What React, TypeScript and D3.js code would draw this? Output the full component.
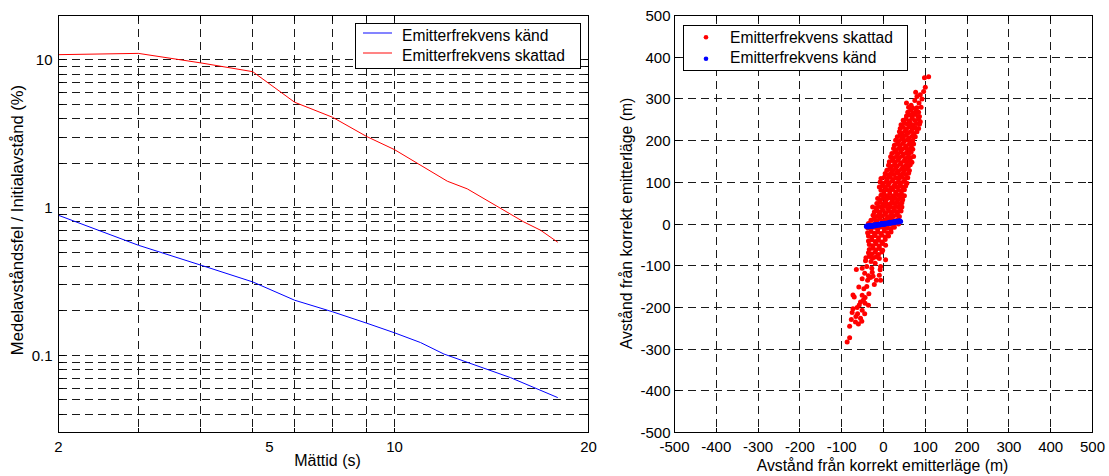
import React from 'react';
import * as d3 from 'd3';

// ---------- Left panel data ----------
const timeKnown = [2, 2.83, 3.71, 4.65, 5.58, 6.58, 7.63, 8.61, 9.64, 10.67, 14.25, 17.5];
const errKnown = [0.887, 0.556, 0.408, 0.314, 0.236, 0.197, 0.165, 0.142, 0.122, 0.102, 0.0706, 0.0517];
const timeEst = [2, 2.83, 3.71, 4.65, 5.58, 6.58, 7.63, 8.61, 10.83, 11.81, 15.1, 16.24, 17.5];
const errEst = [10.86, 11.08, 9.55, 8.33, 5.17, 4.09, 3.03, 2.47, 1.51, 1.34, 0.8, 0.703, 0.583];
const timeGrid = [2.83, 3.71, 4.65, 5.58, 6.58, 7.63, 8.61];
const timeTickValues = [2, 5, 8.61, 20];
const timeTickLabels = ['2', '5', '10', '20'];
const errTickValues = [0.1, 1, 10];
const errTickLabels = ['0.1', '1', '10'];
const leftLegend = ['Emitterfrekvens känd', 'Emitterfrekvens skattad'];

// ---------- Right panel data ----------
const posTicks = [-500, -400, -300, -200, -100, 0, 100, 200, 300, 400, 500];
const rightLegend = ['Emitterfrekvens skattad', 'Emitterfrekvens känd'];

const estPoints: [number, number][] = [
  [98, 351], [108, 353], [100, 328], [77, 316], [96, 318], [80, 306], [55, 290], [85, 290], [80, 279], [92, 300],
  [88, 310], [75, 296], [66, 285], [90, 280], [70, 278], [60, 280], [86, 258], [88, 245],
  [58, 268], [65, 273], [71, 266], [78, 271], [84, 268],
  [55, 259], [62, 262], [69, 257], [75, 263], [82, 258],
  [47, 249], [54, 252], [61, 247], [68, 253], [75, 248], [84, 251],
  [42, 238], [50, 242], [57, 239], [64, 243], [71, 237], [79, 241], [86, 239],
  [40, 229], [47, 232], [55, 228], [62, 233], [69, 227], [76, 231], [84, 229],
  [38, 221], [45, 218], [52, 223], [59, 219], [66, 222], [73, 217], [80, 221],
  [33, 209], [40, 212], [47, 208], [54, 213], [61, 207], [69, 211], [76, 209],
  [29, 201], [36, 198], [43, 203], [50, 199], [57, 202], [64, 197], [70, 201],
  [26, 189], [33, 192], [40, 188], [47, 193], [54, 187], [61, 191], [67, 189], [72, 192],
  [24, 181], [31, 178], [38, 182], [45, 179], [52, 183], [58, 177], [64, 181], [70, 179],
  [20, 169], [27, 172], [34, 168], [41, 173], [48, 167], [55, 171], [61, 169], [66, 172],
  [17, 161], [24, 158], [31, 162], [38, 159], [45, 163], [52, 157], [59, 161], [65, 159], [72, 162],
  [14, 149], [21, 152], [28, 148], [35, 153], [42, 147], [49, 151], [56, 149], [62, 152], [68, 148],
  [12, 141], [19, 138], [26, 142], [33, 139], [40, 143], [47, 137], [54, 141], [60, 139], [64, 142],
  [8, 129], [15, 132], [22, 128], [29, 133], [36, 127], [43, 131], [50, 129], [56, 132], [62, 128],
  [4, 121], [11, 118], [18, 122], [25, 119], [32, 123], [39, 117], [46, 121], [53, 119], [60, 122],
  [-6, 109], [2, 112], [9, 108], [16, 113], [23, 107], [30, 111], [37, 109], [44, 112], [51, 108], [58, 111],
  [-8, 101], [0, 98], [7, 102], [14, 99], [21, 103], [28, 97], [35, 101], [42, 99], [49, 102], [56, 98],
  [-10, 89], [-3, 92], [4, 88], [11, 93], [18, 87], [25, 91], [32, 89], [39, 92], [46, 88], [53, 91],
  [-6, 81], [1, 78], [8, 82], [15, 79], [22, 83], [29, 77], [36, 81], [43, 79], [50, 82],
  [-6, 69], [1, 72], [8, 68], [15, 73], [22, 67], [29, 71], [36, 69], [43, 72], [50, 68],
  [-14, 61], [-7, 58], [0, 62], [7, 59], [14, 63], [21, 57], [28, 61], [35, 59], [41, 62], [46, 58],
  [-16, 49], [-9, 52], [-2, 48], [5, 53], [12, 47], [19, 51], [26, 49], [33, 52], [39, 48], [44, 51],
  [-26, 41], [-18, 38], [-11, 42], [-4, 39], [3, 43], [10, 37], [17, 41], [24, 39], [31, 42], [38, 38], [44, 41],
  [-22, 29], [-15, 32], [-8, 28], [-1, 33], [6, 27], [13, 31], [20, 29], [27, 32], [34, 28], [42, 31],
  [-25, 21], [-18, 18], [-11, 22], [-4, 19], [3, 23], [10, 17], [17, 21], [24, 19], [31, 22], [38, 18],
  [-30, 9], [-23, 12], [-16, 8], [-9, 13], [-2, 7], [5, 11], [12, 9], [19, 12], [26, 8], [34, 11],
  [-36, 1], [-28, -2], [-20, 2], [-12, -1], [-4, 3], [4, -3], [12, 1], [20, -1], [28, 2], [36, 0],
  [-38, -9], [-30, -12], [-22, -8], [-14, -13], [-6, -7], [2, -11], [10, -9], [18, -12], [26, -8],
  [-38, -21], [-30, -18], [-22, -22], [-14, -19], [-6, -23], [2, -17], [10, -21], [18, -19],
  [-36, -29], [-28, -32], [-20, -28], [-12, -33], [-4, -27], [4, -31], [12, -29],
  [-36, -41], [-28, -38], [-20, -42], [-12, -39], [-4, -43], [4, -37],
  [-34, -49], [-26, -52], [-18, -48], [-10, -53], [-2, -47], [5, -51],
  [-34, -61], [-26, -58], [-18, -62], [-10, -59], [-2, -63],
  [-36, -69], [-28, -72], [-20, -68], [-12, -73], [-4, -67],
  [-42, -81], [-34, -78], [-26, -82], [-18, -79], [-10, -83],
  [-87, -283], [-81, -273], [-81, -245], [-77, -229], [-67, -235], [-55, -226], [-75, -212], [-62, -215],
  [-73, -203], [-63, -200], [-51, -207], [-36, -195], [-44, -190], [-55, -187], [-70, -175], [-73, -170],
  [-51, -171], [-44, -176], [-35, -167], [-59, -151], [-47, -155], [-40, -150], [-51, -131], [-38, -135],
  [-36, -124], [-17, -135], [-7, -135], [-10, -123], [-27, -116], [-51, -106], [-65, -109], [-40, -102],
  [-28, -106], [-8, -110], [-7, -102], [-20, -94], [-30, -90], [-43, -88], [5, -86], [-25, -125],
  [-31, -128], [-45, -118], [-22, -145], [-58, -194], [-66, -222], [-48, -182], [-45, -215], [-60, -240],
  [-52, -233],
];

const knownPoints: [number, number][] = [
  [-41, -6], [-39, -4], [-37, -7], [-35, -5], [-33, -3], [-31, -6], [-29, -4], [-27, -6], [-25, -3], [-23, -5],
  [-21, -2], [-19, -4], [-17, -1], [-15, -3], [-13, -1], [-11, -3], [-9, 0], [-7, -2], [-5, 1], [-3, -1],
  [-1, 1], [1, -1], [3, 2], [5, 0], [7, 2], [9, 1], [11, 3], [13, 1], [15, 4], [17, 2],
  [19, 4], [21, 3], [23, 5], [25, 3], [27, 6], [29, 4], [31, 6], [33, 5], [35, 7], [37, 5], [39, 8], [41, 6],
];

const FONT = "'Liberation Sans', Arial, Helvetica, sans-serif";
const RED = '#ff0000';
const BLUE = '#0000ff';
const GRID = '#1a1a1a';
const DASH = '8,5';

export default function App() {
  const L = { x0: 58.5, x1: 588.5, y0: 15.5, y1: 432.5 };
  const R = { x0: 674.5, x1: 1092.5, y0: 15.5, y1: 432.5 };

  const xL = d3.scaleLog().domain([2, 20]).range([L.x0, L.x1]);
  const yL = d3.scaleLog().domain([0.03, 20]).range([L.y1, L.y0]);
  const xR = d3.scaleLinear().domain([-500, 500]).range([R.x0, R.x1]);
  const yR = d3.scaleLinear().domain([-500, 500]).range([R.y1, R.y0]);

  const yGridL = yL.ticks().filter((v) => v > 0.0301 && v < 19.9);
  const isMajor = (v: number) => Math.abs(Math.log10(v) - Math.round(Math.log10(v))) < 1e-6;

  const lineL = d3
    .line<[number, number]>()
    .x((d) => xL(d[0]))
    .y((d) => yL(d[1]));
  const knownPath = lineL(timeKnown.map((t, i) => [t, errKnown[i]] as [number, number])) || '';
  const estPath = lineL(timeEst.map((t, i) => [t, errEst[i]] as [number, number])) || '';

  const innerTicks = posTicks.filter((v) => v > -500 && v < 500);

  return (
    <svg
      width={1109}
      height={476}
      style={{ position: 'absolute', left: 0, top: 0, background: '#fff' }}
      fontFamily={FONT}
    >
      <rect x={0} y={0} width={1109} height={476} fill="#fff" />

      {/* ===== Left panel ===== */}
      <g shapeRendering="crispEdges">
        {yGridL.map((v, i) => (
          <line key={'lh' + i} x1={L.x0} x2={L.x1} y1={yL(v)} y2={yL(v)} stroke={GRID} strokeWidth={1} strokeDasharray={DASH} />
        ))}
        {timeGrid.map((v, i) => (
          <line key={'lv' + i} x1={xL(v)} x2={xL(v)} y1={L.y0} y2={L.y1} stroke={GRID} strokeWidth={1} strokeDasharray={DASH} />
        ))}
        {yGridL.map((v, i) => {
          const len = isMajor(v) ? 6 : 4;
          return (
            <g key={'lt' + i}>
              <line x1={L.x0} x2={L.x0 + len} y1={yL(v)} y2={yL(v)} stroke="#000" />
              <line x1={L.x1} x2={L.x1 - len} y1={yL(v)} y2={yL(v)} stroke="#000" />
            </g>
          );
        })}
        {timeGrid.map((v, i) => (
          <g key={'ltx' + i}>
            <line x1={xL(v)} x2={xL(v)} y1={L.y1} y2={L.y1 - 5} stroke="#000" />
            <line x1={xL(v)} x2={xL(v)} y1={L.y0} y2={L.y0 + 5} stroke="#000" />
          </g>
        ))}
      </g>
      <path d={estPath} fill="none" stroke={RED} strokeWidth={1} />
      <path d={knownPath} fill="none" stroke={BLUE} strokeWidth={1} />
      <rect x={L.x0} y={L.y0} width={L.x1 - L.x0} height={L.y1 - L.y0} fill="none" stroke="#000" strokeWidth={1} shapeRendering="crispEdges" />

      {errTickValues.map((v, i) => (
        <text key={'yl' + i} x={L.x0 - 6} y={yL(v) + 5.5} fontSize={15} textAnchor="end" fill="#000">
          {errTickLabels[i]}
        </text>
      ))}
      {timeTickValues.map((v, i) => (
        <text key={'xl' + i} x={xL(v)} y={452} fontSize={15} textAnchor="middle" fill="#000">
          {timeTickLabels[i]}
        </text>
      ))}
      <text x={(L.x0 + L.x1) / 2 + 4} y={466} fontSize={16} textAnchor="middle" fill="#000">
        Mättid (s)
      </text>
      <text transform={`translate(23,220) rotate(-90)`} fontSize={16.6} textAnchor="middle" fill="#000">
        Medelavståndsfel / Initialavstånd (%)
      </text>

      {/* left legend */}
      <g>
        <rect x={355.5} y={23.5} width={225} height={44.5} fill="#fff" stroke="#000" strokeWidth={1} shapeRendering="crispEdges" />
        <path d="M363,33H392" stroke={BLUE} strokeWidth={1.3} strokeOpacity={0.75} fill="none" />
        <path d="M363,53H392" stroke={RED} strokeWidth={1.3} strokeOpacity={0.75} fill="none" />
        <text x={402} y={40.5} fontSize={15.6} fill="#000">{leftLegend[0]}</text>
        <text x={402} y={60.5} fontSize={15.6} fill="#000">{leftLegend[1]}</text>
      </g>

      {/* ===== Right panel ===== */}
      <g shapeRendering="crispEdges">
        {innerTicks.map((v, i) => (
          <line key={'rh' + i} x1={R.x0} x2={R.x1} y1={yR(v)} y2={yR(v)} stroke={GRID} strokeWidth={1} strokeDasharray={DASH} />
        ))}
        {innerTicks.map((v, i) => (
          <line key={'rv' + i} x1={xR(v)} x2={xR(v)} y1={R.y0} y2={R.y1} stroke={GRID} strokeWidth={1} strokeDasharray={DASH} />
        ))}
        {innerTicks.map((v, i) => (
          <g key={'rt' + i}>
            <line x1={R.x0} x2={R.x0 + 5} y1={yR(v)} y2={yR(v)} stroke="#000" />
            <line x1={R.x1} x2={R.x1 - 5} y1={yR(v)} y2={yR(v)} stroke="#000" />
            <line x1={xR(v)} x2={xR(v)} y1={R.y1} y2={R.y1 - 5} stroke="#000" />
            <line x1={xR(v)} x2={xR(v)} y1={R.y0} y2={R.y0 + 5} stroke="#000" />
          </g>
        ))}
      </g>
      <g>
        {estPoints.map((p, i) => (
          <circle key={'e' + i} cx={xR(p[0])} cy={yR(p[1])} r={2.5} fill={RED} />
        ))}
        {knownPoints.map((p, i) => (
          <circle key={'k' + i} cx={xR(p[0])} cy={yR(p[1])} r={2.5} fill={BLUE} />
        ))}
      </g>
      <rect x={R.x0} y={R.y0} width={R.x1 - R.x0} height={R.y1 - R.y0} fill="none" stroke="#000" strokeWidth={1} shapeRendering="crispEdges" />

      {posTicks.map((v, i) => (
        <text key={'ryl' + i} x={R.x0 - 4} y={yR(v) + 5.5} fontSize={15} textAnchor="end" fill="#000">
          {String(v)}
        </text>
      ))}
      {posTicks.map((v, i) => (
        <text key={'rxl' + i} x={xR(v)} y={452} fontSize={15} textAnchor="middle" fill="#000">
          {String(v)}
        </text>
      ))}
      <text x={882.5} y={470.5} fontSize={15.8} textAnchor="middle" fill="#000">
        Avstånd från korrekt emitterläge (m)
      </text>
      <text transform={`translate(631.5,223.5) rotate(-90)`} fontSize={15.8} textAnchor="middle" fill="#000">
        Avstånd från korrekt emitterläge (m)
      </text>

      {/* right legend */}
      <g>
        <rect x={683.5} y={25.5} width={224} height={45} fill="#fff" stroke="#000" strokeWidth={1} shapeRendering="crispEdges" />
        <circle cx={706} cy={37.3} r={2.3} fill={RED} />
        <circle cx={706} cy={58.7} r={2.3} fill={BLUE} />
        <text x={730} y={43} fontSize={15.6} fill="#000">{rightLegend[0]}</text>
        <text x={730} y={63} fontSize={15.6} fill="#000">{rightLegend[1]}</text>
      </g>
    </svg>
  );
}
